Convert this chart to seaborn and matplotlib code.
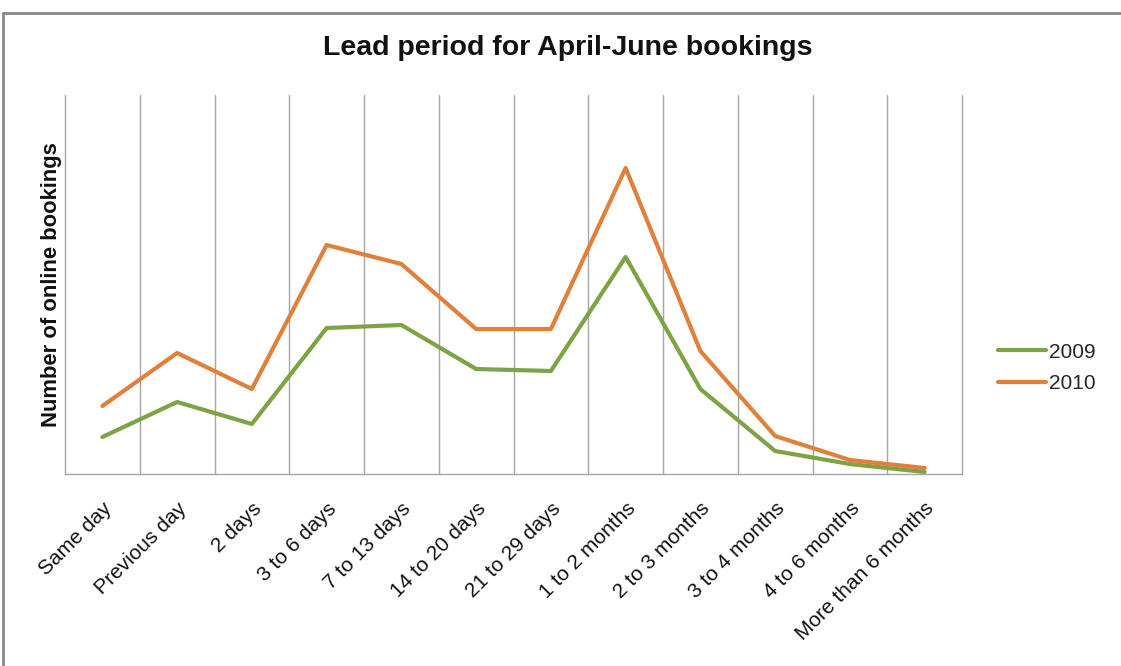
import numpy as np
import pandas as pd
import matplotlib
matplotlib.use("Agg")
import matplotlib.pyplot as plt
from matplotlib.lines import Line2D
import seaborn as sns

# lead period categories
periods = ["Same day", "Previous day", "2 days", "3 to 6 days", "7 to 13 days",
           "14 to 20 days", "21 to 29 days", "1 to 2 months", "2 to 3 months",
           "3 to 4 months", "4 to 6 months", "More than 6 months"]

# bookings (no scale on the original, values read off relative heights)
bookings_2009 = [37, 72, 50, 146, 149, 105, 103, 217, 85, 23, 10, 2]
bookings_2010 = [68, 121, 85, 229, 210, 145, 145, 306, 123, 38, 14, 6]

years = ["2009", "2010"]
colors = {"2009": "#7EA345", "2010": "#E0803A"}

df = pd.DataFrame({
    "period": periods * 2,
    "pos": list(range(len(periods))) * 2,
    "year": ["2009"] * len(periods) + ["2010"] * len(periods),
    "bookings": bookings_2009 + bookings_2010,
})

sns.set_style("white")
plt.rcParams["font.family"] = ["Liberation Sans", "DejaVu Sans"]

fig = plt.figure(figsize=(11.21, 6.66), dpi=100)
ax = fig.add_axes([65 / 1121, 1 - 474 / 666, 897 / 1121, 379 / 666])

sns.lineplot(data=df, x="pos", y="bookings", hue="year", palette=colors,
             linewidth=3.0, ax=ax, legend=False)

ax.set_xlim(-0.5, len(periods) - 0.5)
ax.set_ylim(0, 379)
ax.set_yticks([])
ax.set_xticks(range(len(periods)))
ax.set_xticklabels(periods, rotation=45, ha="right", rotation_mode="anchor",
                   fontsize=15, color="#111111")
ax.tick_params(axis="x", length=0, pad=18)
ax.set_xlabel("")
ax.set_ylabel("Number of online bookings", fontsize=15.8, fontweight="bold",
              labelpad=2, color="#111111")

# vertical grid lines between categories
for b in np.arange(-0.5, len(periods), 1.0):
    ax.axvline(b, color="#A6A6A6", linewidth=1, zorder=0, clip_on=False)

for s in ["top", "right", "left"]:
    ax.spines[s].set_visible(False)
ax.spines["bottom"].set_color("#A6A6A6")
ax.spines["bottom"].set_linewidth(1)

handles = [Line2D([0], [0], color=colors[y], linewidth=3.0) for y in years]
fig.legend(handles, years, loc="center left",
           bbox_to_anchor=(998 / 1121, 1 - 368 / 666),
           frameon=False, fontsize=15, handlelength=2.3, handletextpad=0.15,
           labelspacing=0.6, borderpad=0, borderaxespad=0)

fig.text(568 / 1121, 1 - 48 / 666, "Lead period for April-June bookings",
         ha="center", va="center", fontsize=20.5, fontweight="bold",
         color="#111111")

# outer chart border
fig.add_artist(Line2D([3 / 1121, 1], [1 - 13 / 666, 1 - 13 / 666],
                      color="#888888", linewidth=2, transform=fig.transFigure))
fig.add_artist(Line2D([3 / 1121, 3 / 1121], [0, 1 - 13 / 666],
                      color="#888888", linewidth=2, transform=fig.transFigure))

fig.savefig("out.png", dpi=100)
